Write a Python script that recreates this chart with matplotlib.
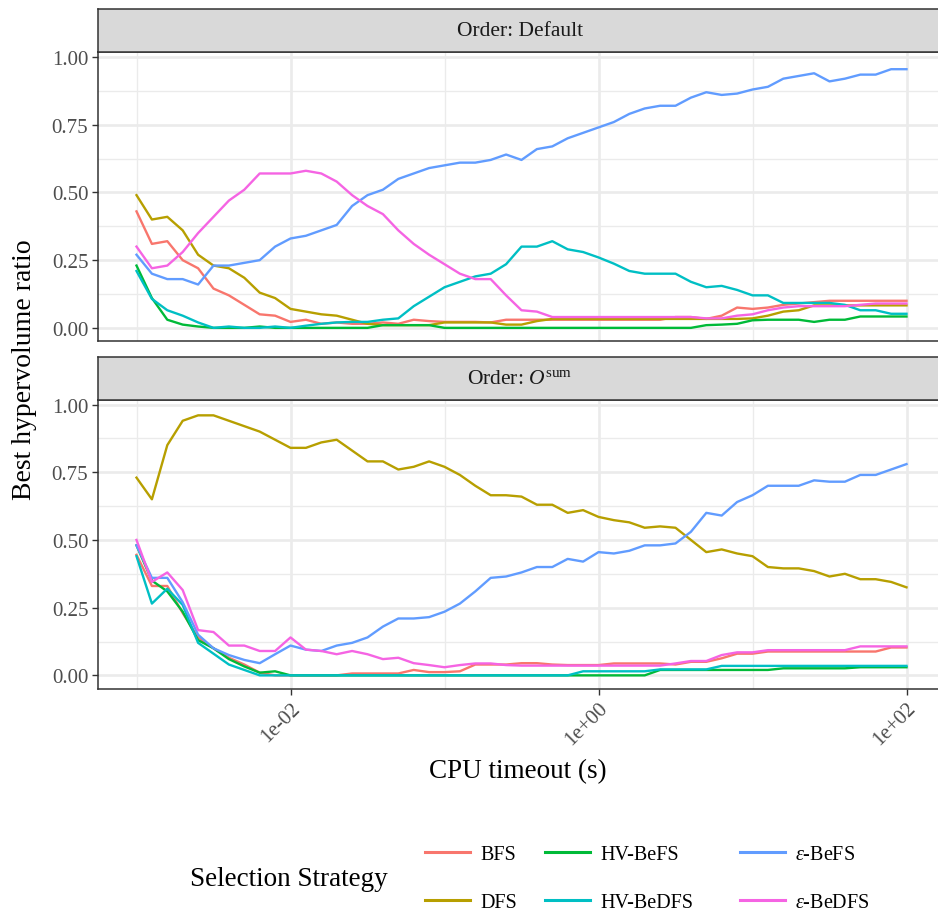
import numpy as np
import matplotlib
matplotlib.use('Agg')
import matplotlib.pyplot as plt
from matplotlib.lines import Line2D
from matplotlib.ticker import NullFormatter

# ===== STYLE =====
plt.rcParams['font.family'] = 'Liberation Serif'
plt.rcParams['mathtext.fontset'] = 'custom'
plt.rcParams['mathtext.rm'] = 'Liberation Serif'
plt.rcParams['mathtext.it'] = 'Liberation Serif:italic'

# ===== DATA =====
# CPU timeouts (s), log-spaced from 1e-3 to 1e2
log_timeout = np.round(np.arange(-3.0, 2.01, 0.1), 1)
timeout = 10 ** log_timeout

strategies = ['BFS', 'DFS', 'HV-BeFS', 'HV-BeDFS',
              r'$\varepsilon$-BeFS', r'$\varepsilon$-BeDFS']
colors = ['#F8766D', '#B79F00', '#00BA38', '#00BFC4', '#619CFF', '#F564E3']
facet_titles = ['Order: Default', r'Order: $O^{\mathrm{sum}}$']

# Order: Default
default_bfs = [0.43, 0.31, 0.32, 0.25, 0.22, 0.145, 0.12, 0.085, 0.05, 0.045,
               0.022, 0.03, 0.015, 0.02, 0.015, 0.015, 0.02, 0.015, 0.03, 0.025,
               0.022, 0.022, 0.022, 0.02, 0.03, 0.03, 0.03, 0.03, 0.03, 0.03,
               0.03, 0.03, 0.03, 0.03, 0.03, 0.04, 0.04, 0.033, 0.045, 0.075,
               0.07, 0.075, 0.085, 0.09, 0.095, 0.10, 0.10, 0.10, 0.10, 0.10,
               0.10]
default_dfs = [0.49, 0.40, 0.41, 0.36, 0.27, 0.23, 0.22, 0.185, 0.13, 0.11,
               0.07, 0.06, 0.05, 0.045, 0.03, 0.015, 0.01, 0.01, 0.01, 0.01,
               0.02, 0.02, 0.02, 0.02, 0.012, 0.012, 0.025, 0.033, 0.033, 0.033,
               0.033, 0.033, 0.033, 0.033, 0.033, 0.033, 0.033, 0.033, 0.033, 0.033,
               0.035, 0.045, 0.06, 0.065, 0.083, 0.083, 0.083, 0.083, 0.083, 0.083,
               0.083]
default_hv_befs = [0.23, 0.11, 0.03, 0.012, 0.005, 0.0, 0.0, 0.0, 0.005, 0.0,
                   0.0, 0.0, 0.0, 0.0, 0.0, 0.0, 0.01, 0.01, 0.01, 0.01,
                   0.0, 0.0, 0.0, 0.0, 0.0, 0.0, 0.0, 0.0, 0.0, 0.0,
                   0.0, 0.0, 0.0, 0.0, 0.0, 0.0, 0.0, 0.01, 0.012, 0.015,
                   0.028, 0.03, 0.03, 0.03, 0.022, 0.03, 0.03, 0.042, 0.042, 0.042,
                   0.042]
default_hv_bedfs = [0.21, 0.107, 0.065, 0.045, 0.02, 0.0, 0.005, 0.0, 0.0, 0.005,
                    0.0, 0.008, 0.015, 0.02, 0.022, 0.022, 0.03, 0.035, 0.08, 0.115,
                    0.15, 0.17, 0.19, 0.20, 0.235, 0.30, 0.30, 0.32, 0.29, 0.28,
                    0.26, 0.237, 0.21, 0.20, 0.20, 0.20, 0.17, 0.15, 0.155, 0.14,
                    0.12, 0.12, 0.092, 0.092, 0.092, 0.092, 0.085, 0.065, 0.065, 0.052,
                    0.052]
default_eps_befs = [0.27, 0.20, 0.18, 0.18, 0.16, 0.23, 0.23, 0.24, 0.25, 0.30,
                    0.33, 0.34, 0.36, 0.38, 0.45, 0.49, 0.51, 0.55, 0.57, 0.59,
                    0.60, 0.61, 0.61, 0.62, 0.64, 0.62, 0.66, 0.67, 0.70, 0.72,
                    0.74, 0.76, 0.79, 0.81, 0.82, 0.82, 0.85, 0.87, 0.86, 0.865,
                    0.88, 0.89, 0.92, 0.93, 0.94, 0.91, 0.92, 0.935, 0.935, 0.955,
                    0.955]
default_eps_bedfs = [0.30, 0.22, 0.23, 0.28, 0.35, 0.41, 0.47, 0.51, 0.57, 0.57,
                     0.57, 0.58, 0.57, 0.54, 0.49, 0.45, 0.42, 0.36, 0.31, 0.27,
                     0.235, 0.20, 0.18, 0.18, 0.12, 0.065, 0.06, 0.04, 0.04, 0.04,
                     0.04, 0.04, 0.04, 0.04, 0.04, 0.04, 0.04, 0.035, 0.035, 0.045,
                     0.05, 0.065, 0.075, 0.08, 0.08, 0.08, 0.08, 0.085, 0.09, 0.09,
                     0.09]

# Order: O^sum
osum_bfs = [0.445, 0.33, 0.33, 0.23, 0.14, 0.10, 0.065, 0.04, 0.01, 0.0,
            0.0, 0.0, 0.0, 0.0, 0.007, 0.007, 0.007, 0.007, 0.02, 0.012,
            0.012, 0.015, 0.04, 0.04, 0.04, 0.045, 0.045, 0.04, 0.038, 0.038,
            0.038, 0.044, 0.044, 0.044, 0.044, 0.04, 0.05, 0.05, 0.063, 0.08,
            0.08, 0.088, 0.088, 0.088, 0.088, 0.088, 0.088, 0.088, 0.088, 0.103,
            0.103]
osum_dfs = [0.73, 0.65, 0.85, 0.94, 0.96, 0.96, 0.94, 0.92, 0.90, 0.87,
            0.84, 0.84, 0.86, 0.87, 0.83, 0.79, 0.79, 0.76, 0.77, 0.79,
            0.77, 0.74, 0.70, 0.665, 0.665, 0.66, 0.63, 0.63, 0.60, 0.61,
            0.585, 0.573, 0.565, 0.545, 0.55, 0.545, 0.50, 0.455, 0.465, 0.45,
            0.44, 0.40, 0.395, 0.395, 0.385, 0.365, 0.375, 0.355, 0.355, 0.345,
            0.325]
osum_hv_befs = [0.48, 0.35, 0.31, 0.235, 0.13, 0.10, 0.06, 0.033, 0.01, 0.015,
                0.0, 0.0, 0.0, 0.0, 0.0, 0.0, 0.0, 0.0, 0.0, 0.0,
                0.0, 0.0, 0.0, 0.0, 0.0, 0.0, 0.0, 0.0, 0.0, 0.0,
                0.0, 0.0, 0.0, 0.0, 0.02, 0.02, 0.02, 0.02, 0.02, 0.02,
                0.02, 0.02, 0.026, 0.026, 0.026, 0.026, 0.026, 0.03, 0.03, 0.03,
                0.03]
osum_hv_bedfs = [0.44, 0.265, 0.32, 0.26, 0.12, 0.08, 0.04, 0.02, 0.0, 0.0,
                 0.0, 0.0, 0.0, 0.0, 0.0, 0.0, 0.0, 0.0, 0.0, 0.0,
                 0.0, 0.0, 0.0, 0.0, 0.0, 0.0, 0.0, 0.0, 0.0, 0.015,
                 0.015, 0.015, 0.015, 0.015, 0.022, 0.022, 0.022, 0.022, 0.035, 0.035,
                 0.035, 0.035, 0.035, 0.035, 0.035, 0.035, 0.035, 0.035, 0.035, 0.035,
                 0.035]
osum_eps_befs = [0.48, 0.36, 0.36, 0.27, 0.15, 0.10, 0.075, 0.057, 0.045, 0.078,
                 0.11, 0.095, 0.09, 0.11, 0.12, 0.14, 0.18, 0.21, 0.21, 0.215,
                 0.235, 0.265, 0.31, 0.36, 0.365, 0.38, 0.40, 0.40, 0.43, 0.42,
                 0.455, 0.45, 0.46, 0.48, 0.48, 0.487, 0.53, 0.60, 0.59, 0.64,
                 0.665, 0.70, 0.70, 0.70, 0.72, 0.715, 0.715, 0.74, 0.74, 0.76,
                 0.78]
osum_eps_bedfs = [0.50, 0.345, 0.38, 0.315, 0.167, 0.16, 0.11, 0.11, 0.09, 0.09,
                  0.14, 0.095, 0.09, 0.078, 0.09, 0.078, 0.06, 0.065, 0.045, 0.038,
                  0.03, 0.038, 0.044, 0.044, 0.038, 0.036, 0.036, 0.036, 0.036, 0.036,
                  0.036, 0.036, 0.036, 0.036, 0.036, 0.044, 0.053, 0.053, 0.075, 0.085,
                  0.085, 0.093, 0.093, 0.093, 0.093, 0.093, 0.093, 0.107, 0.107, 0.107,
                  0.107]

panels = [
    [default_bfs, default_dfs, default_hv_befs, default_hv_bedfs,
     default_eps_befs, default_eps_bedfs],
    [osum_bfs, osum_dfs, osum_hv_befs, osum_hv_bedfs,
     osum_eps_befs, osum_eps_bedfs],
]

# ===== LAYOUT (pixels -> figure fractions) =====
W, H = 938, 912
fig = plt.figure(figsize=(W / 100, H / 100), dpi=100)

def frac(x0, y0, x1, y1):
    """pixel box (top-left origin) -> figure rect"""
    return [x0 / W, 1 - y1 / H, (x1 - x0) / W, (y1 - y0) / H]

panel_boxes = [(98, 53, 945, 342), (98, 400.5, 945, 689.5)]
strip_boxes = [(98, 10, 945, 53), (98, 357.5, 945, 400.5)]

dark = '#333333'
for i, (vals, pbox, sbox) in enumerate(zip(panels, panel_boxes, strip_boxes)):
    ax = fig.add_axes(frac(*pbox))
    for series, col in zip(vals, colors):
        ax.plot(timeout, series, color=col, lw=1.7, solid_joinstyle='round')

    ax.set_xscale('log')
    ax.set_xlim(10 ** -3.25, 10 ** 2.25)
    ax.set_ylim(-0.0485, 1.0185)
    ax.set_xticks([1e-2, 1e0, 1e2])
    ax.set_xticks([1e-3, 1e-1, 1e1], minor=True)
    ax.xaxis.set_minor_formatter(NullFormatter())
    ax.set_yticks([0, 0.25, 0.5, 0.75, 1.0])
    ax.set_yticks([0.125, 0.375, 0.625, 0.875], minor=True)
    ax.set_yticklabels(['0.00', '0.25', '0.50', '0.75', '1.00'])
    ax.grid(which='major', color='#EBEBEB', lw=1.9)
    ax.grid(which='minor', color='#EBEBEB', lw=0.95)
    ax.set_axisbelow(True)
    for sp in ax.spines.values():
        sp.set_color(dark)
        sp.set_linewidth(1.1)
    ax.tick_params(which='minor', length=0)
    ax.tick_params(which='major', color=dark, length=4, width=1.0,
                   labelcolor='#4D4D4D', labelsize=15, pad=3)
    if i == 0:
        ax.tick_params(axis='x', which='major', length=0, labelbottom=False)
    else:
        ax.set_xticklabels(['1e-02', '1e+00', '1e+02'], rotation=45,
                           ha='right', va='top', rotation_mode='anchor')

    # facet strip
    st = fig.add_axes(frac(*sbox))
    st.set_facecolor('#D9D9D9')
    st.set_xticks([])
    st.set_yticks([])
    for sp in st.spines.values():
        sp.set_color(dark)
        sp.set_linewidth(1.1)
    st.text((520 - sbox[0]) / (sbox[2] - sbox[0]), 0.5,
            facet_titles[i], transform=st.transAxes, ha='center',
            va='center', fontsize=15.5, color='#1A1A1A')

# axis titles
fig.text(25 / W, 1 - 370 / H, 'Best hypervolume ratio', rotation=90,
         ha='center', va='center', fontsize=20)
fig.text(518 / W, 1 - 772 / H, 'CPU timeout (s)', ha='center', va='center',
         fontsize=19.5)

# legend: title on the left, three columns of two entries
fig.text(190 / W, 1 - 880 / H, 'Selection Strategy', ha='left',
         va='center', fontsize=19.5)
col_x = [425, 545, 740]
for c in range(3):
    handles = [Line2D([], [], color=colors[2 * c + r], lw=2.2) for r in range(2)]
    labels = [strategies[2 * c + r] for r in range(2)]
    fig.legend(handles, labels, loc='center left',
               bbox_to_anchor=(col_x[c] / W, 1 - 879.5 / H), frameon=False,
               fontsize=14.5, handlelength=2.25, handletextpad=0.5,
               labelspacing=1.4, borderpad=0, borderaxespad=0)

fig.savefig('out.png', dpi=100)
